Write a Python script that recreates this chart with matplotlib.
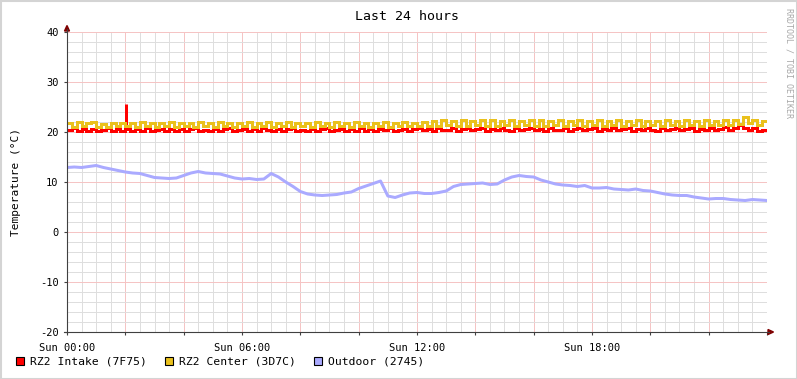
import numpy as np
import matplotlib.pyplot as plt
from matplotlib.lines import Line2D
from matplotlib.patches import Polygon, Rectangle

# --- data (10-minute steps for the two room sensors) ---
edges_10min = np.arange(145) / 6.0
hours_15min = np.arange(97) / 4.0

intake = [
    20.4, 20.8, 20.3, 20.6, 20.2, 20.7, 20.3, 20.5, 20.8, 20.2, 20.6, 20.3,
    20.7, 20.2, 20.6, 20.3, 20.8, 20.2, 20.5, 20.7, 20.2, 20.6, 20.3, 20.7,
    20.2, 20.6, 20.8, 20.3, 20.5, 20.2, 20.7, 20.3, 20.6, 20.8, 20.2, 20.5,
    20.7, 20.3, 20.6, 20.2, 20.8, 20.4, 20.3, 20.7, 20.2, 20.6, 20.8, 20.3,
    20.5, 20.2, 20.7, 20.3, 20.6, 20.8, 20.2, 20.5, 20.7, 20.3, 20.6, 20.2,
    20.8, 20.3, 20.6, 20.2, 20.7, 20.4, 20.8, 20.3, 20.5, 20.7, 20.2, 20.6,
    20.9, 20.4, 20.7, 20.3, 20.8, 20.5, 20.4, 20.9, 20.3, 20.7, 20.9, 20.4,
    20.6, 20.9, 20.3, 20.7, 20.4, 20.9, 20.5, 20.3, 20.8, 20.4, 20.7, 20.9,
    20.4, 20.7, 20.3, 20.9, 20.5, 20.4, 20.8, 20.3, 20.7, 20.9, 20.4, 20.6,
    20.9, 20.3, 20.7, 20.5, 20.9, 20.4, 20.6, 20.8, 20.3, 20.7, 20.4, 20.9,
    20.5, 20.3, 20.8, 20.4, 20.7, 20.9, 20.4, 20.6, 20.9, 20.3, 20.7, 20.5,
    20.9, 20.4, 20.7, 21.0, 20.5, 20.8, 21.4, 20.9, 20.5, 20.8, 20.3, 20.4,
]
intake_spike_hour = 2.03
intake_spike_value = 25.6

center = [
    21.8, 21.1, 22.0, 21.2, 21.9, 22.1, 21.0, 21.7, 21.1, 21.9, 21.2, 21.8,
    21.2, 21.9, 21.1, 22.0, 21.2, 21.8, 21.0, 21.9, 21.2, 22.1, 21.1, 21.8,
    21.2, 21.9, 21.1, 22.0, 21.2, 21.8, 21.1, 22.1, 21.2, 21.9, 21.1, 21.8,
    21.2, 22.0, 21.1, 21.9, 21.2, 22.1, 21.1, 21.8, 21.2, 22.0, 21.1, 21.9,
    21.2, 21.8, 21.1, 22.0, 21.2, 21.9, 21.1, 22.1, 21.2, 21.8, 21.1, 22.0,
    21.2, 21.9, 21.1, 21.8, 21.2, 22.1, 21.1, 21.9, 21.2, 22.0, 21.2, 21.8,
    21.2, 22.0, 21.3, 22.3, 21.2, 22.4, 21.4, 22.2, 21.3, 22.5, 21.2, 22.3,
    21.4, 22.4, 21.2, 22.5, 21.3, 22.3, 21.5, 22.5, 21.3, 22.2, 21.4, 22.4,
    21.3, 22.5, 21.2, 22.3, 21.4, 22.4, 21.3, 22.2, 21.4, 22.5, 21.2, 22.3,
    21.4, 22.4, 21.3, 22.2, 21.5, 22.5, 21.3, 22.3, 21.4, 22.4, 21.2, 22.2,
    21.4, 22.3, 21.3, 22.4, 21.5, 22.2, 21.3, 22.5, 21.4, 22.3, 21.3, 22.4,
    21.4, 22.2, 21.5, 22.4, 21.4, 22.5, 21.7, 23.1, 21.8, 22.4, 21.5, 22.2,
]

outdoor = [
    12.9, 13.0, 12.9, 13.1, 13.3, 12.9, 12.6, 12.3, 12.0, 11.8, 11.7, 11.3,
    10.9, 10.8, 10.7, 10.8, 11.3, 11.8, 12.1, 11.8, 11.7, 11.6, 11.2, 10.8,
    10.6, 10.7, 10.5, 10.6, 11.7, 11.0, 10.0, 9.1, 8.1, 7.6, 7.4, 7.3,
    7.4, 7.5, 7.8, 8.0, 8.7, 9.2, 9.7, 10.2, 7.2, 6.9, 7.4, 7.8,
    7.9, 7.7, 7.7, 7.9, 8.2, 9.1, 9.5, 9.6, 9.7, 9.8, 9.5, 9.6,
    10.4, 11.0, 11.3, 11.1, 11.0, 10.4, 10.0, 9.6, 9.4, 9.3, 9.1, 9.3,
    8.8, 8.8, 8.9, 8.6, 8.5, 8.4, 8.6, 8.3, 8.2, 7.9, 7.6, 7.4,
    7.3, 7.3, 7.0, 6.8, 6.6, 6.7, 6.7, 6.5, 6.4, 6.3, 6.5, 6.4,
    6.3,
]

x_label_hours = [0, 6, 12, 18]
x_labels = ["Sun 00:00", "Sun 06:00", "Sun 12:00", "Sun 18:00"]
y_ticks = [-20, -10, 0, 10, 20, 30, 40]
series_names = ["RZ2 Intake (7F75)", "RZ2 Center (3D7C)", "Outdoor (2745)"]
series_colors = ["#ff0000", "#eac11c", "#aaaaff"]

W, H = 797, 379
MONO = "DejaVu Sans Mono"


def px(x, y):
    # image pixel (top-left origin) -> display coords
    return x, H - y


fig = plt.figure(figsize=(W / 100, H / 100), dpi=100)
fig.patch.set_facecolor("white")

ax = fig.add_axes([67 / W, (H - 332) / H, 700 / W, 300 / H])
ax.set_xlim(0, 24)
ax.set_ylim(-20, 40)
ax.set_facecolor("white")
for s in ax.spines.values():
    s.set_visible(False)

# grid: minor every 30 min / 2 deg, major every 2 h / 10 deg
minor_c, major_c = "#dedede", "#f5c4c4"
for h in np.arange(0.5, 24.01, 0.5):
    major = abs(h / 2 - round(h / 2)) < 1e-6
    ax.axvline(h, color=major_c if major else minor_c, lw=0.72, zorder=0)
for v in range(-18, 41, 2):
    ax.axhline(v, color=major_c if v % 10 == 0 else minor_c, lw=0.72, zorder=0)

lw = 3 * 72 / 100
ax.stairs(intake, edges_10min, baseline=None, color=series_colors[0], lw=lw, zorder=3)
ax.vlines(intake_spike_hour, intake[12], intake_spike_value, color=series_colors[0],
          lw=lw, zorder=3)
ax.stairs(center, edges_10min, baseline=None, color=series_colors[1], lw=lw, zorder=4)
ax.plot(hours_15min, outdoor, color=series_colors[2], lw=3 * 72 / 100, zorder=5)

ax.set_xticks(np.arange(0, 24.1, 2))
ax.set_xticklabels([x_labels[x_label_hours.index(h)] if h in x_label_hours else ""
                    for h in range(0, 25, 2)])
ax.set_yticks(y_ticks)
ax.set_yticklabels([str(v) for v in y_ticks])
ax.tick_params(axis="both", length=2, width=0.8, color="#404040", labelsize=7.5,
               labelcolor="black", direction="out")
ax.tick_params(axis="x", pad=6)
ax.tick_params(axis="y", pad=4)
for lab in ax.get_xticklabels() + ax.get_yticklabels():
    lab.set_family(MONO)

# axis lines with arrows
fig.add_artist(Line2D(*zip(px(67, 333), px(67, 29)), transform=None, color="#404040", lw=0.8))
fig.add_artist(Line2D(*zip(px(64, 332), px(769, 332)), transform=None, color="#404040", lw=0.8))
fig.add_artist(Polygon([px(64.5, 31), px(69.5, 31), px(67, 25.5)], closed=True,
                       transform=None, color="#7f0000"))
fig.add_artist(Polygon([px(768, 329.5), px(768, 334.5), px(773.5, 332)], closed=True,
                       transform=None, color="#7f0000"))

# texts
fig.text(407 / W, 1 - 16 / H, "Last 24 hours", ha="center", va="center",
         family=MONO, fontsize=9.5)
fig.text(16 / W, 1 - 182 / H, "Temperature (°C)", ha="center", va="center",
         rotation=90, family=MONO, fontsize=8)
fig.text(789 / W, 1 - 63 / H, "RRDTOOL / TOBI OETIKER", ha="center", va="center",
         rotation=270, family=MONO, fontsize=6, color="#a8a8a8")

# legend
legend_x = [16, 165, 314]
for x0, name, col in zip(legend_x, series_names, series_colors):
    fig.add_artist(Rectangle(px(x0, 365), 8, 8, transform=None, facecolor=col,
                             edgecolor="black", lw=0.8))
    fig.text((x0 + 14) / W, 1 - 361 / H, name, ha="left", va="center",
             family=MONO, fontsize=8.2)

# outer frame
fig.add_artist(Rectangle((0.5, 0.5), W - 1, H - 1, transform=None, fill=False,
                         edgecolor="#d4d4d4", lw=1.5))

fig.savefig("out.png", dpi=100)
